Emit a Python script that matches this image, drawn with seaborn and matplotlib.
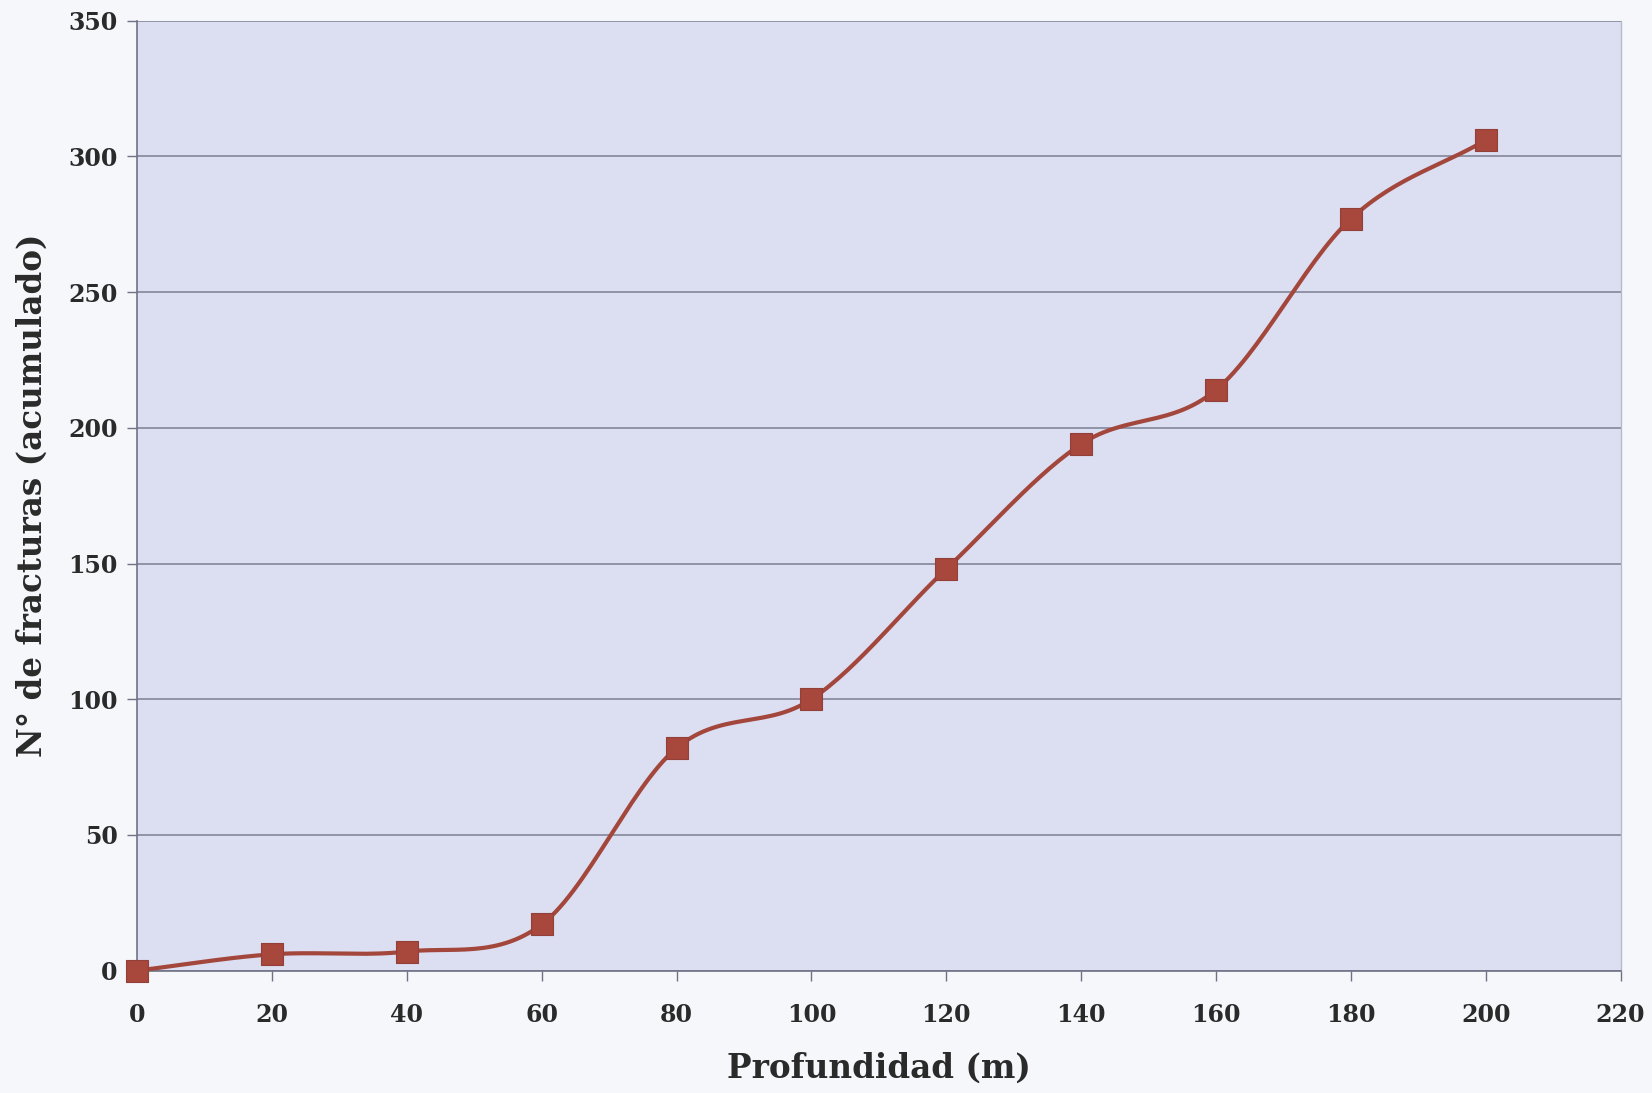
import numpy as np
import pandas as pd
import matplotlib
matplotlib.use("Agg")
import matplotlib.pyplot as plt
import seaborn as sns

# Cumulative fracture count versus depth
profundidad = [0, 20, 40, 60, 80, 100, 120, 140, 160, 180, 200]
fracturas = [0, 6, 7, 17, 82, 100, 148, 194, 214, 277, 306]

x_ticks = list(range(0, 221, 20))
y_ticks = list(range(0, 351, 50))


def smooth_curve(xs, ys, n=30):
    """Catmull-Rom spline through the points (Excel-style smoothed line)."""
    xs = np.asarray(xs, float)
    ys = np.asarray(ys, float)
    px = np.concatenate([[2 * xs[0] - xs[1]], xs, [2 * xs[-1] - xs[-2]]])
    py = np.concatenate([[2 * ys[0] - ys[1]], ys, [2 * ys[-1] - ys[-2]]])
    out_x, out_y = [], []
    t = np.linspace(0, 1, n, endpoint=False)
    for i in range(1, len(px) - 2):
        for arr, out in ((px, out_x), (py, out_y)):
            p0, p1, p2, p3 = arr[i - 1], arr[i], arr[i + 1], arr[i + 2]
            m1 = (p2 - p0) / 2
            m2 = (p3 - p1) / 2
            h00 = 2 * t**3 - 3 * t**2 + 1
            h10 = t**3 - 2 * t**2 + t
            h01 = -2 * t**3 + 3 * t**2
            h11 = t**3 - t**2
            out.extend(h00 * p1 + h10 * m1 + h01 * p2 + h11 * m2)
    out_x.append(xs[-1])
    out_y.append(ys[-1])
    return np.array(out_x), np.array(out_y)


sns.set_theme(style="white")
plt.rcParams["font.family"] = ["DejaVu Serif"]

line_color = "#a3473c"
fig = plt.figure(figsize=(16.52, 10.93), dpi=100, facecolor="#f6f7fb")
ax = fig.add_axes([0.083, 0.112, 0.898, 0.869])
ax.set_facecolor("#dcdef2")

sx, sy = smooth_curve(profundidad, fracturas)
curve = pd.DataFrame({"x": sx, "y": sy})
pts = pd.DataFrame({"Profundidad": profundidad, "Fracturas": fracturas})

sns.lineplot(data=curve, x="x", y="y", ax=ax, color=line_color, linewidth=3,
             sort=False, estimator=None, zorder=3)
sns.scatterplot(data=pts, x="Profundidad", y="Fracturas", ax=ax, marker="s",
                s=250, color="#a8473b", edgecolor="#94403a", linewidth=0.8,
                zorder=4, clip_on=False)

ax.set_xlim(0, 220)
ax.set_ylim(0, 350)
ax.set_xticks(x_ticks)
ax.set_yticks(y_ticks)
ax.yaxis.grid(True, color="#7c8092", linewidth=1.1)
ax.xaxis.grid(False)

for side in ("left", "bottom"):
    ax.spines[side].set_color("#6e7283")
    ax.spines[side].set_linewidth(1.2)
ax.spines["top"].set_visible(False)
ax.spines["right"].set_color("#b8bacb")
ax.spines["right"].set_linewidth(1)

ax.tick_params(axis="both", which="major", direction="out", length=7,
               width=1, color="#6e7283", labelsize=17, labelcolor="#2a2a2a",
               left=True, bottom=True)
ax.tick_params(axis="x", pad=16)
ax.tick_params(axis="y", pad=7)
for lab in ax.get_xticklabels() + ax.get_yticklabels():
    lab.set_fontweight("bold")

ax.set_xlabel("Profundidad (m)", fontsize=23.5, fontweight="bold",
              color="#2a2a2a", labelpad=18)
ax.set_ylabel("N° de fracturas (acumulado)", fontsize=23.5, fontweight="bold",
              color="#2a2a2a", labelpad=14)

fig.savefig("out.png", dpi=100, facecolor=fig.get_facecolor())
